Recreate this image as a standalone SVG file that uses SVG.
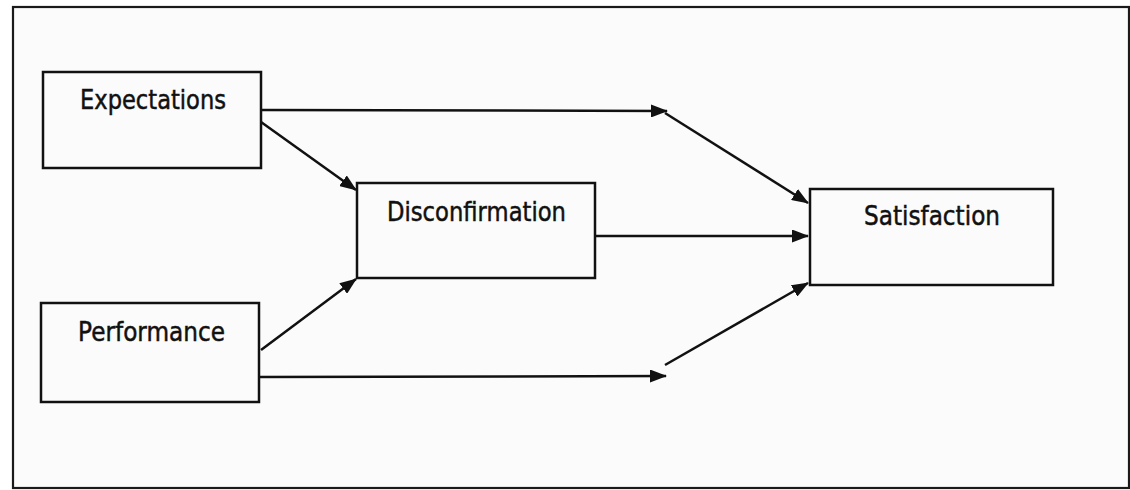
<svg xmlns="http://www.w3.org/2000/svg" width="1130" height="490" viewBox="0 0 1130 490">
  <style>
    .frame { fill: #fbfbfb; stroke: #1a1a1a; stroke-width: 2.2; }
    .box { fill: #fbfbfb; stroke: #111; stroke-width: 2.5; }
    .label { font-family: "DejaVu Sans", Verdana, sans-serif; font-size: 26px; fill: #111; stroke: #111; stroke-width: 0.5; }
    .edge { fill: none; stroke: #111; stroke-width: 2.5; marker-end: url(#head); }
  </style>
  <defs>
    <marker id="head" viewBox="0 0 17 13" refX="16" refY="6.5" markerUnits="userSpaceOnUse" markerWidth="17" markerHeight="13" orient="auto">
      <path d="M0,0 L17,6.5 L0,13 Z" fill="#111"/>
    </marker>
  </defs>

  <rect class="frame" x="13" y="7" width="1116" height="481"/>

  <g id="connectors">
    <!-- Expectations -> Satisfaction (two-step path) -->
    <path class="edge" d="M261,110 L667,111"/>
    <path class="edge" d="M665,113 L808,203"/>
    <!-- Expectations -> Disconfirmation -->
    <path class="edge" d="M261,122 L356,190"/>
    <!-- Performance -> Disconfirmation -->
    <path class="edge" d="M261,350 L356,279"/>
    <!-- Performance -> Satisfaction (two-step path) -->
    <path class="edge" d="M259,377 L666,376"/>
    <path class="edge" d="M665,365 L808,283"/>
    <!-- Disconfirmation -> Satisfaction -->
    <path class="edge" d="M595,236 L808,236"/>
  </g>

  <g id="expectations">
    <rect class="box" x="43" y="72" width="218" height="96"/>
    <text class="label" x="80" y="109" textLength="146" lengthAdjust="spacingAndGlyphs">Expectations</text>
  </g>

  <g id="performance">
    <rect class="box" x="41" y="303" width="218" height="99"/>
    <text class="label" x="78" y="341" textLength="147" lengthAdjust="spacingAndGlyphs">Performance</text>
  </g>

  <g id="disconfirmation">
    <rect class="box" x="357" y="183" width="238" height="95"/>
    <text class="label" x="387" y="221" textLength="179" lengthAdjust="spacingAndGlyphs">Disconfirmation</text>
  </g>

  <g id="satisfaction">
    <rect class="box" x="810" y="189" width="243" height="96"/>
    <text class="label" x="864" y="225" textLength="136" lengthAdjust="spacingAndGlyphs">Satisfaction</text>
  </g>
</svg>
